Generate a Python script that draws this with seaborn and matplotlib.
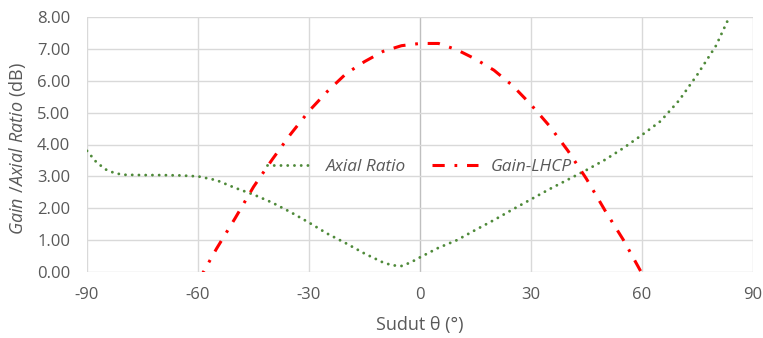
import matplotlib
matplotlib.use("Agg")
import matplotlib.pyplot as plt
import seaborn as sns
import pandas as pd
import numpy as np

# ---- data ----
ar_angle = [-90, -87.5, -85, -82.5, -80, -75, -70, -65, -60, -55, -50, -45, -40, -35, -30,
            -25, -20, -15, -10, -7.5, -5, -2.5, 0, 5, 10, 15, 20, 25, 30, 35, 40, 45,
            50, 55, 60, 65, 70, 75, 80, 85, 90]
axial_ratio = [3.80, 3.45, 3.22, 3.10, 3.05, 3.04, 3.04, 3.03, 3.00, 2.88, 2.64, 2.43, 2.18, 1.88, 1.55,
               1.20, 0.90, 0.58, 0.30, 0.21, 0.19, 0.30, 0.46, 0.76, 1.00, 1.32, 1.63, 1.96, 2.28, 2.60, 2.90, 3.20,
               3.52, 3.89, 4.30, 4.73, 5.38, 6.20, 7.10, 8.35, 9.80]

gain_angle = [-60, -55, -50, -45, -40, -35, -30, -25, -20, -15, -10, -5, 0,
              5, 10, 15, 20, 25, 30, 35, 40, 45, 50, 55, 60]
gain_lhcp = [-0.30, 0.73, 1.68, 2.67, 3.52, 4.32, 5.05, 5.67, 6.22, 6.60, 6.92, 7.10, 7.17,
             7.17, 6.97, 6.68, 6.33, 5.85, 5.25, 4.58, 3.80, 2.92, 1.93, 1.00, -0.05]

series_names = ["Axial Ratio", "Gain-LHCP"]
x_ticks = [-90, -60, -30, 0, 30, 60, 90]
x_tick_labels = ["-90", "-60", "-30", "0", "30", "60", "90"]
y_ticks = [0, 1, 2, 3, 4, 5, 6, 7, 8]
x_label = "Sudut θ (°)"

df_ar = pd.DataFrame({"angle": ar_angle, "value": axial_ratio})
df_g = pd.DataFrame({"angle": gain_angle, "value": gain_lhcp})

sns.set_theme(style="white")
plt.rcParams["font.family"] = ["Open Sans", "DejaVu Sans"]
plt.rcParams["mathtext.fontset"] = "custom"
plt.rcParams["mathtext.it"] = "Open Sans:italic"
plt.rcParams["mathtext.rm"] = "Open Sans"

TXT = "#595959"
GRID = "#D9D9D9"
GREEN = "#4F8A3A"
RED = "#FF0000"

fig = plt.figure(figsize=(7.63, 3.38), dpi=100)
ax = fig.add_axes([87 / 763, (338 - 272) / 338, (753 - 87) / 763, (272 - 17) / 338])

ax.set_xlim(-90, 90)
ax.set_ylim(0, 8)

# grid
for xt in x_ticks:
    ax.axvline(xt, color=("#BFBFBF" if xt == 0 else GRID), lw=1.0, zorder=0)
for yt in y_ticks:
    ax.axhline(yt, color=GRID, lw=1.0, zorder=0)

sns.lineplot(data=df_ar, x="angle", y="value", ax=ax, color=GREEN, lw=2.1,
             label=series_names[0], sort=False)
sns.lineplot(data=df_g, x="angle", y="value", ax=ax, color=RED, lw=2.2,
             label=series_names[1], sort=False)

l_ar, l_g = ax.get_lines()[-2], ax.get_lines()[-1]
l_ar.set_dashes((0.01, 2.3))
l_ar.set_dash_capstyle("round")
l_g.set_dashes((4.0, 3.2, 0.9, 3.2))
l_g.set_dash_capstyle("butt")

for s in ax.spines.values():
    s.set_visible(False)

ax.set_xticks(x_ticks)
ax.set_xticklabels(x_tick_labels)
ax.set_yticks(y_ticks)
ax.set_yticklabels([f"{v:.2f}" for v in y_ticks])
ax.tick_params(axis="both", length=0, labelsize=12, colors=TXT)
ax.tick_params(axis="x", pad=11)
ax.tick_params(axis="y", pad=12)

ax.set_xlabel(x_label, fontsize=13, color=TXT, labelpad=9)
ax.set_ylabel(r"$\mathit{Gain\ /Axial\ Ratio}$ (dB)", fontsize=13, color=TXT)
ax.yaxis.set_label_coords(-0.089, 0.482)

leg = ax.legend(loc="center", bbox_to_anchor=(0.499, 0.41), ncol=2, frameon=False,
                handlelength=2.7, handletextpad=0.7, columnspacing=1.5,
                prop={"size": 12.4, "style": "italic", "family": "Open Sans"})
for t in leg.get_texts():
    t.set_color(TXT)

fig.savefig("out.png", dpi=100)
